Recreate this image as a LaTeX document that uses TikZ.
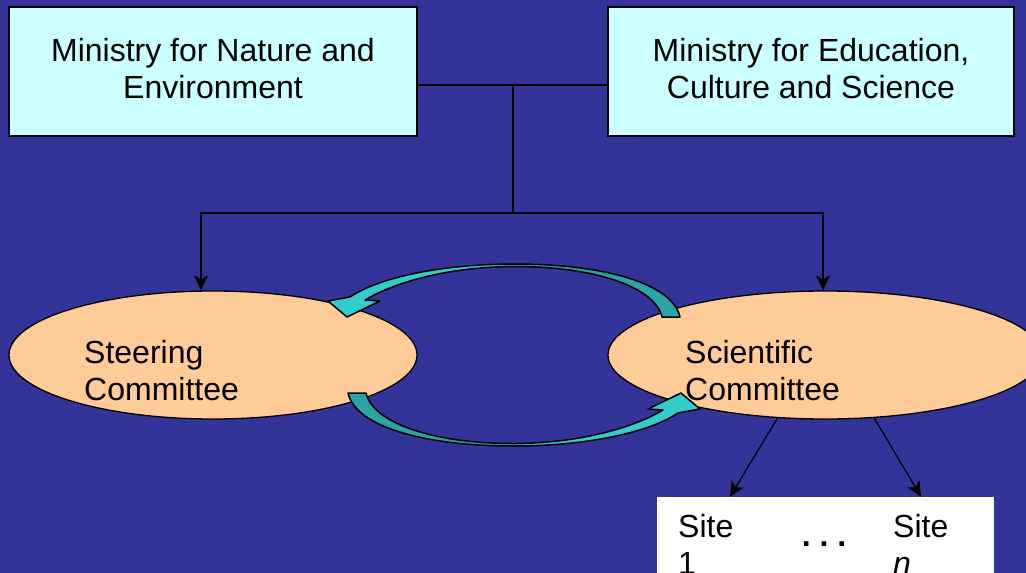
\documentclass[tikz,border=0pt]{standalone}
\usepackage{fontspec}
\setmainfont{Liberation Sans}
\usepackage{xcolor}
\usetikzlibrary{shapes.geometric,arrows.meta}
\definecolor{bgblue}{HTML}{333399}
\definecolor{boxcyan}{HTML}{CCFFFF}
\definecolor{ellpeach}{HTML}{FFCC99}
\definecolor{arrlight}{HTML}{33CCCC}
\definecolor{arrdark}{HTML}{29A3A3}

\begin{document}
\begin{tikzpicture}[x=1pt,y=-1pt,
    every node/.style={font=\fontsize{32}{37}\selectfont},
    ministry/.style={draw,line width=1.5pt,fill=boxcyan,align=center,minimum height=129pt,inner sep=0pt,text depth=7pt},
    committee/.style={draw,line width=1.3pt,ellipse,fill=ellpeach,minimum height=128pt,inner sep=0pt},
    lbl/.style={anchor=north west,align=left,inner sep=0pt},
    link/.style={line width=1.2pt},
    arr/.style={link,-{Stealth[length=15pt,width=14pt,inset=4pt]}},
    turnarrow/.style={line width=1.5pt,fill=arrlight,line join=round}]
    \useasboundingbox (0,0) rectangle (1026,573);
    \clip (0,0) rectangle (1026,573);
    \fill[bgblue] (0,0) rectangle (1026,573);

    \node[ministry,minimum width=408pt] (nature) at (213,71.5) {Ministry for Nature and\\Environment};
    \node[ministry,minimum width=406pt] (educ) at (811,71.5) {Ministry for Education,\\Culture and Science};

    \node[committee,minimum width=408pt] (steer) at (213,355) {};
    \node[committee,minimum width=434pt] (sci) at (825,355) {};

    \node[fill=white,minimum width=337pt,minimum height=120pt,inner sep=0pt] (sites) at (825.5,557) {};

    % ministries down to the committees
    \coordinate (hub) at (513,85);
    \coordinate (split) at (513,213);
    \draw[link] (nature.east |- hub) -- (educ.west |- hub);
    \draw[link] (hub) -- (split);
    \draw[arr] (split) -| ([xshift=-12pt]steer.north);
    \draw[arr] (split) -| ([xshift=-2pt]sci.north);
    \draw[arr] (sci.-127) -- ([xshift=-95.5pt]sites.north);
    \draw[arr] (sci.-52.5) -- ([xshift=95.5pt]sites.north);

    % curved arrows between the committees
    \filldraw[turnarrow, path picture={\fill[arrdark] (path picture bounding box.north) rectangle (path picture bounding box.south east);}]
      (680,317) .. controls (672,282) and (600,264) .. (515,264)
      .. controls (440,264) and (378,278) .. (350,297)
      -- (328,301) -- (347,317) -- (380,301) -- (365,300)
      .. controls (395,282) and (450,266.5) .. (515,266.5)
      .. controls (595,266.5) and (655,287) .. (662,317) -- cycle;
    \filldraw[turnarrow, path picture={\fill[arrdark] (path picture bounding box.north west) rectangle (path picture bounding box.south);}]
      (348,393) .. controls (356,428) and (428,446) .. (513,446)
      .. controls (588,446) and (650,432) .. (678,413)
      -- (700,409) -- (681,393) -- (648,409) -- (663,410)
      .. controls (633,428) and (578,443.5) .. (513,443.5)
      .. controls (433,443.5) and (373,423) .. (366,393) -- cycle;

    \node[lbl] (steertxt) at (84,340) {Steering\\Committee};
    \node[lbl] (scitxt) at (685,340) {Scientific\\Committee};
    \node[lbl] (site1) at (678,514) {Site\\1};
    \node[lbl] (siten) at (893,514) {Site\\\textit{n}};
    \node[anchor=base,inner sep=0pt] (dots) at (824,546) {\textbf{.\ .\ .}};
\end{tikzpicture}
\end{document}
